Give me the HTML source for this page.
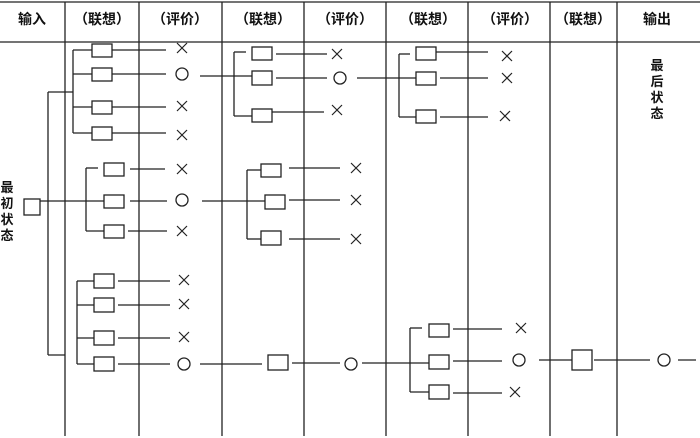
<!DOCTYPE html>
<html><head><meta charset="utf-8"><style>
html,body{margin:0;padding:0;background:#fff;}
svg{display:block;}
text{font-family:"Liberation Sans","Noto Sans CJK SC",sans-serif;font-size:13px;font-weight:bold;fill:#111;}
text.h{font-size:14px;}
</style></head><body>
<svg width="700" height="438" viewBox="0 0 700 438" xmlns="http://www.w3.org/2000/svg">
<g stroke="#222" stroke-width="1.3" fill="none">
<line x1="0" y1="2" x2="700" y2="2"/>
<line x1="0" y1="42" x2="700" y2="42"/>
<line x1="65" y1="2" x2="65" y2="436"/>
<line x1="139" y1="2" x2="139" y2="436"/>
<line x1="222" y1="2" x2="222" y2="436"/>
<line x1="304" y1="2" x2="304" y2="436"/>
<line x1="386" y1="2" x2="386" y2="436"/>
<line x1="468" y1="2" x2="468" y2="436"/>
<line x1="550" y1="2" x2="550" y2="436"/>
<line x1="617" y1="2" x2="617" y2="436"/>

<rect x="24" y="199" width="16" height="16"/>
<line x1="40" y1="201" x2="104" y2="201"/>
<line x1="48" y1="92" x2="48" y2="355"/>
<line x1="48" y1="92" x2="73" y2="92"/>
<line x1="48" y1="355" x2="65" y2="355"/>

<line x1="73" y1="50" x2="73" y2="133"/>
<line x1="73" y1="50" x2="92" y2="50"/><rect x="92" y="44" width="20" height="13"/><line x1="112" y1="50" x2="166" y2="50"/>
<line x1="73" y1="74" x2="92" y2="74"/><rect x="92" y="68" width="20" height="13"/><line x1="112" y1="74" x2="166" y2="74"/>
<line x1="73" y1="107" x2="92" y2="107"/><rect x="92" y="101" width="20" height="13"/><line x1="112" y1="107" x2="166" y2="107"/>
<line x1="73" y1="133" x2="92" y2="133"/><rect x="92" y="127" width="20" height="13"/><line x1="112" y1="133" x2="166" y2="133"/>

<line x1="86" y1="168" x2="86" y2="231"/>
<line x1="86" y1="168" x2="98" y2="168"/><rect x="104" y="163" width="20" height="13"/><line x1="130" y1="169" x2="165" y2="169"/>
<rect x="104" y="195" width="20" height="13"/><line x1="130" y1="201" x2="167" y2="201"/>
<line x1="86" y1="231" x2="104" y2="231"/><rect x="104" y="225" width="20" height="13"/><line x1="128" y1="231" x2="167" y2="231"/>

<line x1="77" y1="281" x2="77" y2="364"/>
<line x1="77" y1="281" x2="94" y2="281"/><rect x="94" y="274" width="20" height="14"/><line x1="118" y1="281" x2="170" y2="281"/>
<line x1="77" y1="305" x2="94" y2="305"/><rect x="94" y="298" width="20" height="14"/><line x1="118" y1="305" x2="170" y2="305"/>
<line x1="77" y1="338" x2="94" y2="338"/><rect x="94" y="331" width="20" height="14"/><line x1="118" y1="338" x2="170" y2="338"/>
<line x1="77" y1="364" x2="94" y2="364"/><rect x="94" y="357" width="20" height="14"/><line x1="118" y1="364" x2="170" y2="364"/>

<line x1="200" y1="76" x2="252" y2="76"/>
<line x1="234" y1="52" x2="234" y2="116"/>
<line x1="234" y1="52" x2="246" y2="52"/><rect x="252" y="47" width="20" height="13"/><line x1="276" y1="54" x2="327" y2="54"/>
<rect x="252" y="71" width="20" height="14"/><line x1="276" y1="78" x2="327" y2="78"/>
<line x1="234" y1="116" x2="252" y2="116"/><rect x="252" y="109" width="20" height="13"/><line x1="272" y1="112" x2="324" y2="112"/>

<line x1="202" y1="201" x2="265" y2="201"/>
<line x1="247" y1="170" x2="247" y2="239"/>
<line x1="247" y1="170" x2="261" y2="170"/><rect x="261" y="164" width="20" height="13"/><line x1="289" y1="168" x2="340" y2="168"/>
<rect x="265" y="195" width="20" height="14"/><line x1="289" y1="200" x2="340" y2="200"/>
<line x1="247" y1="239" x2="261" y2="239"/><rect x="261" y="231" width="20" height="14"/><line x1="289" y1="239" x2="340" y2="239"/>

<line x1="357" y1="78" x2="416" y2="78"/>
<line x1="399" y1="54" x2="399" y2="117"/>
<line x1="399" y1="54" x2="410" y2="54"/><rect x="416" y="47" width="20" height="13"/><line x1="436" y1="52" x2="488" y2="52"/>
<rect x="416" y="72" width="20" height="13"/><line x1="440" y1="78" x2="488" y2="78"/>
<line x1="399" y1="117" x2="416" y2="117"/><rect x="416" y="110" width="20" height="13"/><line x1="440" y1="117" x2="488" y2="117"/>

<line x1="200" y1="364" x2="262" y2="364"/>
<rect x="268" y="355" width="20" height="15"/>
<line x1="292" y1="363" x2="340" y2="363"/>
<line x1="362" y1="363" x2="429" y2="363"/>
<line x1="410" y1="328" x2="410" y2="392"/>
<line x1="410" y1="328" x2="422" y2="328"/><rect x="429" y="324" width="20" height="13"/><line x1="453" y1="329" x2="502" y2="329"/>
<rect x="429" y="355" width="20" height="14"/><line x1="453" y1="361" x2="502" y2="361"/>
<line x1="410" y1="392" x2="429" y2="392"/><rect x="429" y="385" width="20" height="14"/><line x1="453" y1="393" x2="502" y2="393"/>
<line x1="539" y1="360" x2="572" y2="360"/>
<rect x="572" y="350" width="20" height="20"/>
<line x1="594" y1="360" x2="650" y2="360"/>
<line x1="678" y1="360" x2="696" y2="360"/>

<circle cx="182" cy="74" r="6"/>
<circle cx="182" cy="200" r="6"/>
<circle cx="184" cy="364" r="6"/>
<circle cx="340" cy="78" r="6"/>
<circle cx="351" cy="364" r="6"/>
<circle cx="519" cy="360" r="6"/>
<circle cx="664" cy="360" r="6"/>
</g>
<g stroke="#222" stroke-width="1.2">
<path d="M177 43 l10 10 M187 43 l-10 10"/>
<path d="M177 101 l10 10 M187 101 l-10 10"/>
<path d="M177 130 l10 10 M187 130 l-10 10"/>
<path d="M177 164 l10 10 M187 164 l-10 10"/>
<path d="M177 226 l10 10 M187 226 l-10 10"/>
<path d="M179 275 l10 10 M189 275 l-10 10"/>
<path d="M179 299 l10 10 M189 299 l-10 10"/>
<path d="M179 332 l10 10 M189 332 l-10 10"/>
<path d="M332 49 l10 10 M342 49 l-10 10"/>
<path d="M332 105 l10 10 M342 105 l-10 10"/>
<path d="M351 163 l10 10 M361 163 l-10 10"/>
<path d="M351 195 l10 10 M361 195 l-10 10"/>
<path d="M351 234 l10 10 M361 234 l-10 10"/>
<path d="M502 51 l10 10 M512 51 l-10 10"/>
<path d="M502 73 l10 10 M512 73 l-10 10"/>
<path d="M500 111 l10 10 M510 111 l-10 10"/>
<path d="M516 323 l10 10 M526 323 l-10 10"/>
<path d="M510 387 l10 10 M520 387 l-10 10"/>
</g>
<text class="h" x="32" y="24" text-anchor="middle">输入</text>
<text class="h" x="102" y="24" text-anchor="middle">（联想）</text>
<text class="h" x="180" y="24" text-anchor="middle">（评价）</text>
<text class="h" x="263" y="24" text-anchor="middle">（联想）</text>
<text class="h" x="345" y="24" text-anchor="middle">（评价）</text>
<text class="h" x="428" y="24" text-anchor="middle">（联想）</text>
<text class="h" x="510" y="24" text-anchor="middle">（评价）</text>
<text class="h" x="583" y="24" text-anchor="middle">（联想）</text>
<text class="h" x="657" y="24" text-anchor="middle">输出</text>
<g text-anchor="middle">
<text x="7" y="192">最</text><text x="7" y="208">初</text><text x="7" y="224">状</text><text x="7" y="240">态</text>
<text x="657" y="70">最</text><text x="657" y="86">后</text><text x="657" y="102">状</text><text x="657" y="118">态</text>
</g>
</svg>
</body></html>
